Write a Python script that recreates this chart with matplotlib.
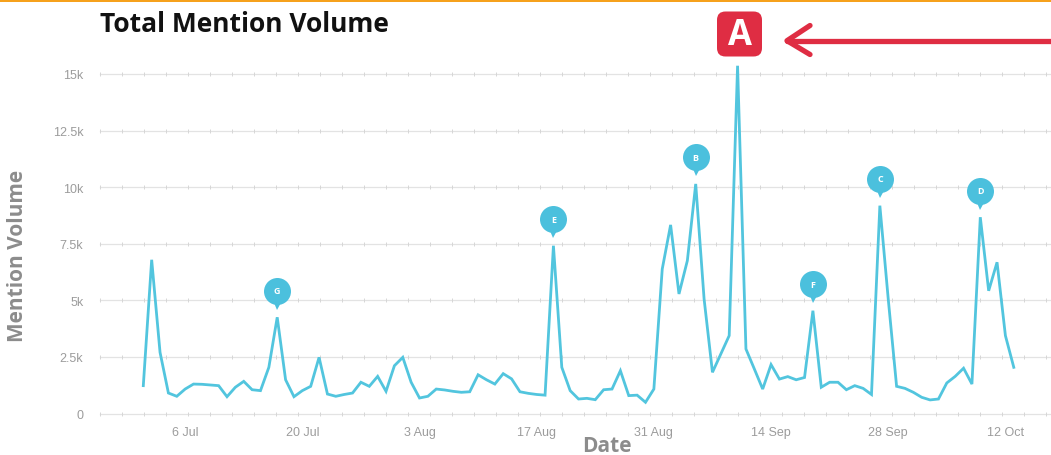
import numpy as np
import pandas as pd
import matplotlib
matplotlib.use("Agg")
import matplotlib.pyplot as plt
import matplotlib.transforms as mtransforms
from matplotlib.patches import FancyBboxPatch, Rectangle
from matplotlib.lines import Line2D

# ---------------- data ----------------
start_date = "2020-07-01"
mentions = [
    1230, 6790, 2700, 905, 760, 1080, 1300, 1290, 1260, 1230,
    742, 1160, 1420, 1050, 1010, 2040, 4250, 1490, 742, 1010,
    1200, 2480, 860, 760, 840, 905, 1380, 1200, 1640, 980,
    2110, 2480, 1380, 685, 760, 1080, 1040, 980, 936, 960,
    1710, 1490, 1300, 1760, 1530, 960, 890, 840, 810, 7410,
    2040, 1010, 640, 670, 610, 1050, 1080, 1890, 790, 810,
    495, 1080, 6380, 8330, 5280, 6750, 10140, 5060, 1820, 2630,
    3440, 15360, 2850, 1970, 1080, 2160, 1520, 1630, 1490, 1590,
    4540, 1160, 1380, 1380, 1050, 1230, 1110, 840, 9180, 5060,
    1200, 1110, 936, 715, 600, 640, 1350, 1640, 2000, 1300,
    8670, 5420, 6680, 3440, 2040,
]
dates = pd.date_range(start_date, periods=len(mentions), freq="D")

pin_letters = ["G", "E", "B", "F", "C", "D"]
pin_dates = ["2020-07-17", "2020-08-19", "2020-09-05", "2020-09-19", "2020-09-27", "2020-10-09"]

y_ticks = [0, 2500, 5000, 7500, 10000, 12500, 15000]
y_tick_labels = ["0", "2.5k", "5k", "7.5k", "10k", "12.5k", "15k"]
x_tick_dates = ["2020-07-06", "2020-07-20", "2020-08-03", "2020-08-17",
                "2020-08-31", "2020-09-14", "2020-09-28", "2020-10-12"]
x_tick_labels = ["6 Jul", "20 Jul", "3 Aug", "17 Aug", "31 Aug", "14 Sep", "28 Sep", "12 Oct"]

title = "Total Mention Volume"
x_title = "Date"
y_title = "Mention Volume"
badge = "A"

# ---------------- figure ----------------
W, H = 1051, 456
fig = plt.figure(figsize=(W / 100, H / 100), dpi=100)
fig.patch.set_facecolor("white")

def fx(px):
    return px / W

def fy(py):
    return 1 - py / H

ax_left, ax_right = 100, 1051
ax_bottom, ax_top = 414.5, 62
ax = fig.add_axes([fx(ax_left), fy(ax_bottom), fx(ax_right - ax_left), (ax_bottom - ax_top) / H])

px_per_day = 8.37
left_days = (143.3 - ax_left) / px_per_day
right_days = (ax_right - 143.3) / px_per_day
x0 = dates[0]
ax.set_xlim(x0 - pd.Timedelta(days=left_days), x0 + pd.Timedelta(days=right_days))
ymax = (ax_bottom - ax_top) / 56.6 * 2500
ax.set_ylim(0, ymax)

line_color = "#52C5DE"
pin_color = "#4BC0DD"

# gridlines with faint little cross ticks
grid_tr = mtransforms.blended_transform_factory(ax.transAxes, ax.transData)
tick_x = np.arange(0, 1.0001, 22 / (ax_right - ax_left))
for v in y_ticks:
    ax.axhline(v, color="#e3e3e3", lw=0.9, zorder=0, clip_on=False)
    ax.plot(tick_x, [v] * len(tick_x), transform=grid_tr, ls="none", marker="|",
            markersize=3, markeredgewidth=0.7, color="#d6d6d6", zorder=0, clip_on=False)

ax.plot(dates, mentions, color=line_color, lw=2.0, solid_joinstyle="miter", zorder=3, clip_on=False)

ax.set_yticks(y_ticks)
ax.set_yticklabels(y_tick_labels)
ax.set_xticks(pd.to_datetime(x_tick_dates))
ax.set_xticklabels(x_tick_labels)
ax.tick_params(axis="both", length=0, labelsize=9, labelcolor="#9c9c9c")
ax.tick_params(axis="y", pad=12)
ax.tick_params(axis="x", pad=9)
for lab in ax.get_xticklabels() + ax.get_yticklabels():
    lab.set_fontfamily("Liberation Sans")
for s in ax.spines.values():
    s.set_visible(False)
ax.set_facecolor("none")

# pins
for letter, d in zip(pin_letters, pin_dates):
    dt = pd.Timestamp(d)
    val = mentions[dates.get_loc(dt)]
    tr_c = mtransforms.offset_copy(ax.transData, fig, x=0, y=26.7 * 0.72, units="points")
    tr_t = mtransforms.offset_copy(ax.transData, fig, x=0, y=13.5 * 0.72, units="points")
    ax.plot([dt], [val], marker="v", markersize=11 * 0.72, color=pin_color, transform=tr_t,
            markeredgewidth=0, zorder=5, clip_on=False)
    ax.plot([dt], [val], marker="o", markersize=27 * 0.72, color=pin_color, transform=tr_c,
            markeredgewidth=0, zorder=5, clip_on=False)
    ax.text(dt, val, letter, transform=tr_c, ha="center", va="center", color="white",
            fontsize=6.5, fontfamily="Open Sans", fontweight="bold", zorder=6)

# titles
fig.text(fx(100), fy(25), title, ha="left", va="center", fontsize=19,
         fontfamily="Open Sans", fontweight="bold", color="#111111")
fig.text(fx(607), fy(447), x_title, ha="center", va="center", fontsize=15,
         fontfamily="Open Sans", fontweight="bold", color="#8c8c8c")
fig.text(fx(18), fy(256), y_title, ha="center", va="center", rotation=90, fontsize=15,
         fontfamily="Open Sans", fontweight="bold", color="#8c8c8c")

# orange top rule
fig.patches.append(Rectangle((0, fy(3)), 1, 3 / H, transform=fig.transFigure,
                             facecolor="#F6A11C", edgecolor="none", zorder=10))

# red badge
red = "#DF2D43"
bx0, bx1, by0, by1 = 717, 762, 12.5, 57.5
fig.patches.append(FancyBboxPatch((fx(bx0), fy(by1)), fx(bx1 - bx0), (by1 - by0) / H,
                                  boxstyle="round,pad=0,rounding_size=0.008",
                                  transform=fig.transFigure, facecolor=red, edgecolor="none",
                                  zorder=10, mutation_aspect=W / H))
fig.text(fx((bx0 + bx1) / 2), fy((by0 + by1) / 2 + 1), badge, ha="center", va="center",
         fontsize=25, fontfamily="Open Sans", fontweight="bold", color="white", zorder=11)

# arrow
arrow_kw = dict(transform=fig.transFigure, color=red, lw=3.8, solid_capstyle="round",
                solid_joinstyle="round", zorder=10)
fig.lines.append(Line2D([fx(1055), fx(787)], [fy(41.7), fy(41.7)], **arrow_kw))
fig.lines.append(Line2D([fx(810), fx(787), fx(810)], [fy(26.5), fy(41.7), fy(55.5)], **arrow_kw))

fig.savefig("out.png", dpi=100)
